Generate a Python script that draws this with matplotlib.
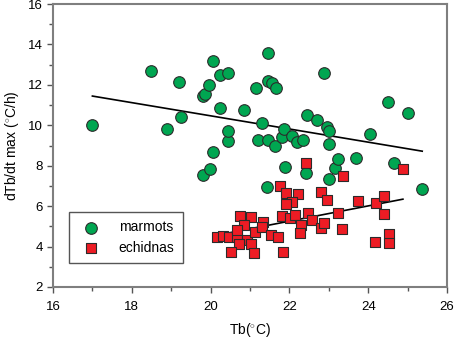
import matplotlib.pyplot as plt
import numpy as np

plt.rcParams['font.family'] = ['Liberation Sans', 'DejaVu Sans']
plt.rcParams['mathtext.fontset'] = 'custom'
plt.rcParams['mathtext.rm'] = 'Liberation Sans'

# marmots (green circles)
marmot_tb = [17.0, 18.5, 18.9, 19.2, 19.25, 19.8, 19.85, 19.95, 20.05, 20.25,
             20.45, 20.25, 20.85, 20.05, 20.45, 20.45, 19.8, 19.98, 21.15, 21.45,
             21.45, 21.55, 21.65, 21.3, 21.2, 21.45, 21.63, 21.8, 21.86, 22.07,
             22.2, 22.35, 21.43, 21.9, 22.42, 22.45, 22.7, 22.88, 22.95, 23.0,
             23.0, 23.0, 23.16, 23.23, 23.69, 24.05, 24.5, 25.0, 24.65, 25.37]
marmot_rate = [10.0, 12.7, 9.8, 12.15, 10.4, 11.45, 11.55, 12.0, 13.2, 12.5,
               12.6, 10.85, 10.75, 8.7, 9.2, 9.7, 7.55, 7.85, 11.85, 13.6,
               12.2, 12.1, 11.85, 10.1, 9.25, 9.25, 8.97, 9.42, 9.8, 9.47,
               9.17, 9.27, 6.94, 7.93, 7.65, 10.5, 10.26, 12.58, 9.9, 9.7,
               9.07, 7.34, 7.88, 8.33, 8.38, 9.56, 11.15, 10.6, 8.15, 6.84]

# echidnas (red squares)
echidna_tb = [20.16, 20.31, 20.47, 20.67, 20.75, 21.03, 20.85, 20.67, 20.92, 20.72,
              21.03, 20.52, 21.1, 21.13, 21.33, 21.3, 21.53, 21.71, 21.84, 21.81,
              22.02, 22.13, 22.3, 22.27, 22.48, 22.57, 22.8, 22.88, 23.23, 23.33,
              21.76, 21.91, 22.22, 22.07, 21.92, 22.8, 22.95, 23.73, 24.2, 24.4,
              24.4, 22.43, 23.36, 24.88, 24.17, 24.53, 24.53]
echidna_rate = [4.47, 4.52, 4.47, 4.47, 5.5, 5.46, 5.06, 4.81, 4.32, 4.12,
                4.12, 3.72, 3.7, 4.71, 5.23, 4.98, 4.58, 4.45, 3.74, 5.5,
                5.43, 5.56, 5.08, 4.66, 5.65, 5.31, 4.94, 5.16, 5.65, 4.88,
                6.99, 6.64, 6.6, 6.22, 6.1, 6.72, 6.3, 6.25, 6.15, 6.5,
                5.6, 8.13, 7.49, 7.83, 4.24, 4.61, 4.17]

# regression lines (slope, intercept)
marmot_fit = [-0.326, 16.99]
echidna_fit = [0.378, -3.06]

fig = plt.figure(figsize=(4.54, 3.40), dpi=100)
ax = fig.add_axes([0.1167, 0.156, 0.868, 0.832])

for tb, fit in [(marmot_tb, marmot_fit), (echidna_tb, echidna_fit)]:
    xs = np.array([min(tb), max(tb)])
    ax.plot(xs, np.polyval(fit, xs), color='black', lw=1.2, zorder=2)

ax.scatter(marmot_tb, marmot_rate, s=70, marker='o', facecolor='#00a651',
           edgecolor='#2b2b2b', linewidth=0.8, zorder=3, label='marmots')
ax.scatter(echidna_tb, echidna_rate, s=62, marker='s', facecolor='#ed1c24',
           edgecolor='#2b2b2b', linewidth=0.8, zorder=3, label='echidnas')

ax.set_xlim(16, 26)
ax.set_ylim(2, 16)
ax.set_xticks(np.arange(16, 27, 2))
ax.set_xticks(np.arange(17, 26, 2), minor=True)
ax.set_yticks(np.arange(2, 17, 2))
ax.set_yticks(np.arange(3, 16, 2), minor=True)
ax.tick_params(which='both', direction='out', colors='#555555', labelcolor='black',
               labelsize=9.5, width=1)
ax.tick_params(which='major', length=4)
ax.tick_params(which='minor', length=3)
ax.tick_params(axis='x', which='major', pad=6)
for sp in ax.spines.values():
    sp.set_color('#7f7f7f')
    sp.set_linewidth(1.5)

ax.set_xlabel('Tb($^{\\circ}$C)', fontsize=10, labelpad=6)
ax.set_ylabel('dTb/dt max ($^{\\circ}$C/h)', fontsize=10, labelpad=5)

leg = ax.legend(loc='lower left', bbox_to_anchor=(0.04, 0.085), fontsize=10,
                fancybox=False, edgecolor='#555555', framealpha=1,
                handletextpad=1.0, borderpad=0.6, labelspacing=0.45,
                scatterpoints=1, borderaxespad=0)
leg.get_frame().set_linewidth(1.0)

fig.savefig('out.png', dpi=100)
